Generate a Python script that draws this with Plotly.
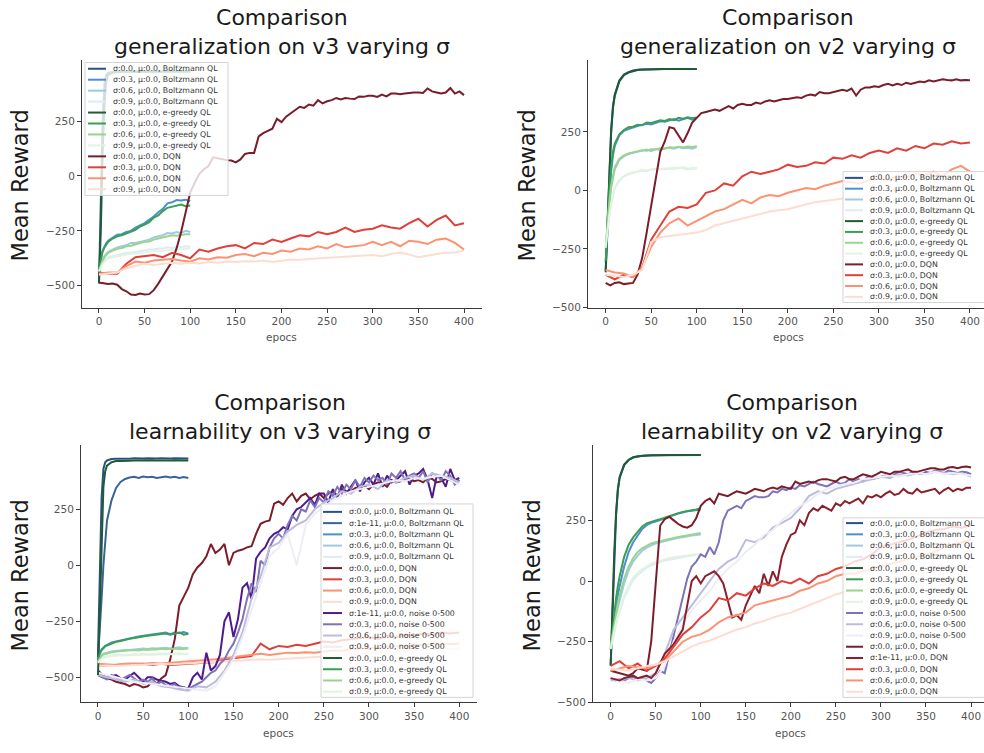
import plotly.graph_objects as go

W, H = 984, 753

# ---------------- x grids (epochs) ----------------
QLX = [0, 2, 4, 6, 8, 10] + list(range(15, 101, 5))
X5 = list(range(0, 401, 5))
X10 = list(range(0, 401, 10))

# ---------------- colours ----------------
COL = {
    "B0": "#2a5185", "B1e": "#3a6398", "B3": "#4b8fd0", "B6": "#9ecae1", "B9": "#deebf7",
    "E0": "#1f5c36", "E3": "#3a9e55", "E6": "#98d490", "E9": "#e3f4de",
    "D0": "#7b1c2a", "D1e": "#8a1f2e", "D3": "#e0403a", "D6": "#fc9272", "D9": "#fdddd0",
    "N1e": "#4f1a8c", "N3": "#7e72b8", "N6": "#bcbddc", "N9": "#eeedf6",
}

def lab(sig, alg):
    return "σ:%s, μ:0.0, %s" % (sig, alg)

# ======== Panel 1: generalization on v3 ========
g3_B0 = [-490, -100, 250, 420, 460, 470, 474, 475, 476, 475, 476, 476, 475, 476, 476, 475, 476, 476, 475, 476, 476, 476, 475, 476]
g3_B3 = [-430, -370, -340, -320, -305, -295, -280, -268, -265, -255, -250, -235, -225, -215, -200, -185, -165, -150, -125, -120, -110, -112, -108, -115]
g3_B6 = [-430, -400, -380, -365, -355, -345, -335, -325, -320, -315, -305, -305, -300, -295, -290, -280, -275, -270, -260, -262, -255, -260, -250, -255]
g3_B9 = [-430, -410, -395, -385, -378, -370, -365, -360, -355, -350, -350, -345, -340, -338, -335, -335, -330, -330, -325, -328, -322, -325, -320, -322]
g3_E0 = [-485, -250, 100, 330, 430, 460, 470, 473, 474, 474, 475, 474, 475, 475, 474, 475, 475, 474, 475, 475, 475, 474, 475, 475]
g3_E3 = [-425, -375, -345, -325, -315, -300, -285, -275, -270, -262, -255, -245, -230, -222, -210, -190, -180, -160, -145, -140, -135, -130, -138, -135]
g3_E6 = [-435, -405, -385, -370, -360, -350, -340, -332, -328, -320, -318, -310, -305, -300, -298, -290, -285, -280, -275, -270, -272, -268, -265, -265]
g3_E9 = [-435, -415, -400, -390, -382, -375, -370, -365, -360, -358, -355, -352, -350, -348, -345, -342, -340, -340, -338, -335, -335, -332, -330, -330]
g3_D0 = [-485, -490, -492, -490, -495, -515, -525, -540, -542, -535,
         -540, -538, -520, -490, -455, -420, -390, -330, -255, -165,
         -75, -30, 10, 30, 45, 85, 80, 75, 72, 70,
         62, 75, 100, 105, 105, 180, 195, 205, 215, 260,
         245, 270, 285, 300, 315, 310, 325, 320, 345, 330,
         340, 345, 355, 348, 355, 352, 350, 362, 360, 365,
         365, 360, 370, 362, 375, 375, 372, 375, 378, 380,
         380, 378, 398, 385, 380, 375, 380, 400, 375, 385,
         368]
g3_D3 = [-440, -445, -445, -400, -370, -365, -360, -370, -350, -360,
         -375, -335, -345, -330, -320, -315, -330, -305, -310, -290,
         -300, -285, -270, -275, -255, -265, -255, -235, -255, -245,
         -240, -225, -235, -240, -215, -195, -230, -200, -180, -225,
         -215]
g3_D6 = [-445, -440, -440, -410, -390, -395, -385, -380, -378, -385,
         -390, -375, -380, -370, -372, -360, -355, -365, -350, -355,
         -340, -345, -330, -335, -320, -330, -310, -325, -320, -315,
         -300, -315, -300, -320, -295, -300, -310, -290, -285, -305,
         -335]
g3_D9 = [-450, -445, -440, -420, -410, -400, -405, -400, -395, -400,
         -395, -398, -392, -395, -390, -392, -388, -390, -385, -392,
         -385, -380, -382, -378, -375, -372, -370, -368, -365, -362,
         -360, -365, -355, -350, -358, -370, -362, -355, -350, -348,
         -340]

# ======== Panel 2: generalization on v2 ========
g2_B0 = [-350, -120, 100, 260, 360, 410, 470, 495, 505, 512, 515, 516, 517, 518, 518, 518, 518, 518, 518, 518, 518, 518, 518, 518]
g2_B3 = [-310, -160, -20, 80, 150, 190, 235, 255, 262, 270, 275, 280, 285, 282, 290, 295, 293, 300, 305, 298, 305, 310, 302, 310]
g2_B6 = [-250, -140, -60, 10, 60, 90, 130, 145, 155, 160, 165, 170, 175, 168, 178, 172, 180, 182, 178, 185, 180, 182, 178, 185]
g2_B9 = [-250, -170, -110, -60, -20, 10, 40, 60, 70, 75, 80, 85, 82, 90, 88, 92, 90, 95, 92, 98, 95, 90, 96, 95]
g2_E0 = [-345, -140, 80, 245, 350, 405, 465, 492, 503, 510, 514, 516, 517, 517, 518, 518, 518, 518, 518, 518, 518, 518, 518, 518]
g2_E3 = [-300, -140, 0, 100, 165, 200, 240, 258, 270, 272, 280, 278, 290, 288, 295, 300, 297, 305, 300, 310, 306, 312, 308, 312]
g2_E6 = [-240, -130, -50, 20, 70, 100, 135, 150, 158, 162, 168, 172, 170, 176, 175, 180, 178, 184, 182, 186, 183, 188, 185, 190]
g2_E9 = [-245, -165, -105, -55, -15, 15, 45, 62, 72, 78, 80, 88, 85, 90, 92, 88, 95, 92, 98, 94, 100, 95, 92, 96]
g2_D0 = [-395, -405, -395, -392, -400, -398, -395, -360, -290, -180,
         -60, 60, 165, 210, 270, 265, 235, 205, 245, 290,
         310, 330, 335, 340, 345, 340, 350, 360, 350, 365,
         370, 365, 365, 375, 370, 380, 385, 380, 385, 390,
         390, 395, 398, 395, 405, 410, 405, 420, 415, 415,
         420, 425, 430, 425, 435, 405, 430, 440, 440, 445,
         442, 450, 455, 448, 455, 450, 460, 455, 460, 465,
         462, 470, 465, 470, 475, 472, 470, 475, 470, 472,
         470]
g2_D3 = [-360, -380, -360, -370, -330, -210, -150, -90, -70, -75,
         -60, -10, 0, 30, 20, 60, 80, 70, 80, 90,
         110, 100, 105, 120, 115, 140, 135, 150, 140, 160,
         170, 160, 180, 170, 190, 180, 200, 195, 210, 200,
         205]
g2_D6 = [-340, -350, -355, -370, -330, -240, -180, -140, -120, -150,
         -130, -110, -90, -80, -60, -40, -55, -30, -20, -25,
         -10, 0, 10, 5, 20, 30, 40, 35, 30, 45,
         50, 45, 60, 55, 70, 65, 80, 60, 90, 105,
         80]
g2_D9 = [-360, -365, -370, -360, -340, -220, -200, -195, -190, -185,
         -180, -170, -150, -140, -130, -120, -110, -100, -90, -85,
         -80, -70, -60, -50, -45, -40, -35, -30, -30, -20,
         -10, -15, 0, -5, 5, 10, 10, 15, 20, 15,
         20]

# ======== Panel 3: learnability on v3 ========
l3_B0 = [-400, -50, 300, 430, 460, 468, 474, 476, 475, 477, 476, 478, 476, 477, 478, 476, 477, 478, 476, 477, 478, 477, 476, 477]
l3_B1e = [-410, -300, -150, 0, 120, 200, 290, 345, 372, 385, 392, 395, 390, 396, 393, 395, 390, 394, 396, 392, 395, 390, 394, 390]
l3_B3 = [-420, -390, -375, -365, -360, -355, -345, -340, -335, -330, -325, -322, -318, -315, -312, -310, -308, -305, -300, -308, -300, -302, -298, -305]
l3_B6 = [-425, -410, -400, -395, -392, -390, -385, -382, -380, -378, -378, -375, -375, -372, -374, -370, -372, -370, -368, -372, -370, -366, -370, -368]
l3_B9 = [-430, -420, -415, -410, -408, -405, -402, -400, -400, -398, -400, -396, -398, -395, -398, -396, -395, -397, -394, -396, -395, -393, -396, -395]
l3_D0 = [-490, -500, -505, -510, -520, -525, -530, -540, -530, -535,
         -545, -540, -520, -530, -505, -490, -420, -330, -180, -140,
         -100, -40, -10, 10, 40, 95, 55, 70, 95, 0,
         55, 65, 70, 80, 85, 140, 185, 195, 200, 275,
         285, 270, 300, 320, 285, 310, 320, 295, 310, 320,
         300, 320, 330, 310, 340, 330, 330, 345, 350, 355,
         340, 360, 370, 365, 350, 380, 370, 375, 380, 385,
         375, 380, 370, 390, 385, 370, 375, 385, 380, 375,
         380]
l3_D3 = [-450, -448, -445, -442, -445, -440, -445, -440, -445, -442,
         -440, -438, -435, -432, -420, -415, -410, -405, -350, -375,
         -360, -365, -355, -360, -350, -340, -345, -335, -330, -325,
         -320, -330, -315, -320, -310, -315, -305, -310, -300, -305,
         -300]
l3_D6 = [-440, -442, -445, -440, -438, -440, -436, -438, -435, -434,
         -430, -428, -425, -420, -415, -410, -405, -400, -395, -400,
         -395, -390, -392, -388, -390, -385, -380, -382, -375, -372,
         -370, -368, -365, -362, -360, -358, -355, -352, -350, -352,
         -350]
l3_D9 = [-450, -448, -450, -446, -445, -444, -442, -440, -442, -440,
         -440, -438, -436, -432, -430, -428, -425, -422, -420, -422,
         -420, -418, -415, -412, -410, -408, -405, -400, -398, -395,
         -390, -388, -385, -382, -380, -378, -375, -374, -372, -370,
         -370]
l3_N1e = [-470, -490, -500, -495, -490, -505, -510, -495, -480, -500,
          -520, -500, -500, -510, -515, -520, -530, -525, -540, -545,
          -550, -500, -480, -510, -390, -470, -450, -400, -250, -210,
          -320, -240, -100, -80, -150, 30, 60, 80, 120, 140,
          150, 170, 160, 220, 250, 260, 280, 300, 270, 320,
          320, 280, 340, 300, 360, 320, 350, 380, 330, 370,
          390, 360, 410, 350, 400, 370, 380, 400, 420, 360,
          400, 410, 430, 380, 300, 400, 390, 350, 430, 380,
          390]
l3_N3 = [-480, -500, -510, -490, -500, -515, -500, -490, -505, -520,
         -510, -520, -505, -530, -520, -535, -540, -530, -550, -545,
         -555, -540, -530, -520, -500, -480, -470, -440, -420, -380,
         -350, -300, -240, -150, -80, -120, 20, 0, 80, 120,
         140, 120, 180, 220, 200, 250, 240, 290, 260, 300,
         280, 330, 310, 350, 320, 360, 340, 380, 350, 390,
         370, 400, 380, 390, 360, 410, 390, 420, 380, 400,
         410, 390, 420, 370, 410, 400, 380, 420, 400, 360,
         380]
l3_N6 = [-490, -500, -510, -520, -510, -530, -520, -540, -545, -555,
         -560, -540, -545, -520, -470, -400, -300, -150, -50, 80,
         100, 150, 180, 200, 250, 280, 300, 330, 320, 350,
         360, 340, 380, 370, 390, 400, 380, 410, 400, 390,
         370]
l3_N9 = [-480, -490, -500, -510, -520, -525, -530, -535, -540, -545,
         -550, -555, -560, -540, -480, -420, -320, -200, -80, 40,
         80, 140, 0, 180, 230, 260, 290, 310, 330, 340,
         350, 360, 370, 380, 375, 390, 385, 395, 400, 380,
         360]
l3_E0 = [-490, -200, 150, 350, 420, 445, 460, 465, 466, 468, 467, 468, 469, 467, 468, 469, 468, 467, 469, 468, 469, 468, 467, 468]
l3_E3 = [-425, -395, -380, -370, -362, -358, -350, -342, -338, -332, -328, -325, -320, -318, -315, -312, -310, -308, -305, -310, -304, -300, -310, -306]
l3_E6 = [-430, -415, -405, -398, -395, -392, -388, -385, -383, -382, -380, -378, -380, -376, -378, -375, -376, -373, -375, -374, -372, -375, -372, -372]
l3_E9 = [-435, -425, -418, -414, -410, -408, -405, -404, -402, -402, -400, -400, -399, -400, -398, -399, -398, -396, -398, -397, -396, -398, -395, -397]

# ======== Panel 4: learnability on v2 ========
l2_B0 = [-345, -110, 110, 270, 375, 425, 478, 499, 509, 513, 516, 517, 518, 518, 518, 519, 519, 519, 519, 519, 519, 519, 519, 519]
l2_B3 = [-285, -220, -160, -110, -60, -20, 60, 120, 160, 190, 215, 230, 240, 245, 252, 260, 265, 272, 278, 282, 288, 290, 292, 295]
l2_B6 = [-275, -230, -185, -145, -110, -80, -10, 45, 80, 105, 125, 138, 148, 155, 160, 165, 170, 172, 178, 180, 185, 188, 190, 192]
l2_B9 = [-285, -245, -210, -180, -150, -125, -70, -30, 5, 25, 42, 55, 65, 72, 78, 85, 88, 92, 96, 100, 102, 105, 108, 110]
l2_E0 = [-350, -100, 120, 280, 380, 430, 480, 500, 510, 514, 516, 517, 518, 518, 518, 519, 519, 519, 519, 519, 519, 519, 519, 519]
l2_E3 = [-280, -200, -130, -70, -20, 20, 100, 150, 180, 205, 225, 238, 245, 250, 255, 262, 268, 275, 280, 285, 290, 292, 295, 300]
l2_E6 = [-270, -220, -170, -130, -90, -60, 10, 60, 95, 120, 135, 145, 155, 160, 165, 170, 172, 178, 182, 185, 188, 190, 195, 198]
l2_E9 = [-280, -240, -200, -170, -140, -115, -60, -20, 15, 35, 50, 62, 72, 78, 85, 90, 95, 98, 100, 102, 105, 108, 110, 108]
l2_N3 = [-400, -410, -405, -410, -400, -395, -405, -400, -410, -420,
         -400, -370, -380, -300, -220, -150, -60, 10, 60, 80,
         110, 100, 140, 110, 160, 250, 290, 300, 310, 300,
         330, 340, 350, 345, 345, 350, 370, 365, 380, 375,
         385, 380, 395, 390, 400, 410, 400, 395, 390, 400,
         410, 400, 405, 420, 410, 420, 410, 430, 420, 425,
         430, 435, 425, 440, 450, 445, 440, 450, 445, 440,
         450, 445, 455, 450, 445, 455, 450, 445, 450, 448,
         440]
l2_N6 = [-410, -405, -400, -410, -400, -380, -300, -200, -150, -100,
         -50, 0, 50, 80, 100, 170, 160, 180, 220, 240,
         260, 300, 350, 370, 360, 380, 390, 400, 410, 420,
         430, 425, 440, 435, 445, 440, 450, 445, 440, 445,
         430]
l2_N9 = [-400, -410, -420, -405, -410, -400, -350, -250, -180, -120,
         -80, -40, 10, 50, 80, 120, 150, 190, 210, 250,
         280, 310, 330, 360, 380, 390, 400, 405, 420, 425,
         430, 435, 430, 440, 445, 440, 450, 440, 445, 440,
         435]
l2_D0 = [-370, -375, -380, -385, -390, -380, -360, -365, -370, -250,
         0, 229, 255, 265, 250, 235, 225, 220, 230, 260,
         310, 330, 340, 320, 360, 355, 350, 360, 370, 365,
         360, 370, 380, 375, 370, 380, 385, 380, 390, 385,
         380, 410, 400, 405, 410, 405, 415, 420, 420, 415,
         410, 425, 430, 420, 420, 430, 440, 435, 430, 440,
         450, 445, 440, 450, 450, 455, 460, 450, 450, 455,
         460, 465, 465, 460, 460, 468, 470, 465, 470, 472,
         468]
l2_D1e = [-400, -405, -410, -400, -395, -390, -400, -395, -390, -400,
          -380, -340, -300, -280, -260, -230, -200, -100, 0, 20,
          -10, 20, 30, 40, 20, -10, -80, -150, -140, -160,
          -100, -60, -20, -50, 30, -20, 40, 0, 100, 150,
          190, 200, 250, 230, 280, 300, 290, 310, 300, 290,
          320, 310, 330, 320, 330, 340, 320, 350, 345, 355,
          345, 360, 370, 355, 360, 380, 365, 360, 380, 365,
          370, 375, 380, 360, 375, 385, 370, 380, 375, 385,
          385]
l2_D3 = [-350, -330, -360, -340, -370, -350, -320, -270, -220, -190,
         -150, -120, -70, -80, -50, -60, -30, -10, -20, 0,
         -10, 10, -10, 20, 30, 50, 60, 80, 90, 110,
         140, 150, 160, 170, 185, 200, 210, 215, 225, 220,
         230]
l2_D6 = [-370, -360, -350, -355, -360, -345, -330, -290, -250, -230,
         -220, -200, -170, -150, -140, -130, -100, -90, -80, -70,
         -60, -40, -30, -10, 0, 20, 30, 30, 40, 50,
         60, 70, 80, 90, 100, 110, 120, 140, 150, 160,
         170]
l2_D9 = [-360, -365, -370, -360, -350, -345, -330, -310, -290, -270,
         -255, -245, -230, -215, -200, -190, -175, -165, -150, -140,
         -130, -115, -100, -85, -70, -55, -45, -35, -20, -10,
         0, 10, 20, 25, 30, 35, 40, 45, 50, 55,
         60]

BQ, EQ, DQ, NQ = "Boltzmann QL", "e-greedy QL", "DQN", "noise 0-500"

panels = [
    dict(
        title="Comparison<br>generalization on v3 varying σ", title_xy=(282, 32.5),
        box=(82, 60, 482, 310), xr=(-18.6, 419.7), yr=(-599, 530),
        ylab_xy=(20, 187), xlab_xy=(281, 340),
        leg=dict(box=(85, 63, 228, 197), y0=69.3, dy=11.04, sw=(88, 106), tx=111),
        series=[
            (lab("0.0", BQ), "B0", QLX, g3_B0), (lab("0.3", BQ), "B3", QLX, g3_B3),
            (lab("0.6", BQ), "B6", QLX, g3_B6), (lab("0.9", BQ), "B9", QLX, g3_B9),
            (lab("0.0", EQ), "E0", QLX, g3_E0), (lab("0.3", EQ), "E3", QLX, g3_E3),
            (lab("0.6", EQ), "E6", QLX, g3_E6), (lab("0.9", EQ), "E9", QLX, g3_E9),
            (lab("0.0", DQ), "D0", X5, g3_D0), (lab("0.3", DQ), "D3", X10, g3_D3),
            (lab("0.6", DQ), "D6", X10, g3_D6), (lab("0.9", DQ), "D9", X10, g3_D9),
        ]),
    dict(
        title="Comparison<br>generalization on v2 varying σ", title_xy=(788, 32.5),
        box=(588, 60, 984, 310), xr=(-19.4, 415.4), yr=(-500, 559),
        ylab_xy=(527, 187), xlab_xy=(788, 340),
        leg=dict(box=(843, 173, 990, 305), y0=179.3, dy=10.9, sw=(845, 863), tx=868),
        series=[
            (lab("0.0", BQ), "B0", QLX, g2_B0), (lab("0.3", BQ), "B3", QLX, g2_B3),
            (lab("0.6", BQ), "B6", QLX, g2_B6), (lab("0.9", BQ), "B9", QLX, g2_B9),
            (lab("0.0", EQ), "E0", QLX, g2_E0), (lab("0.3", EQ), "E3", QLX, g2_E3),
            (lab("0.6", EQ), "E6", QLX, g2_E6), (lab("0.9", EQ), "E9", QLX, g2_E9),
            (lab("0.0", DQ), "D0", X5, g2_D0), (lab("0.3", DQ), "D3", X10, g2_D3),
            (lab("0.6", DQ), "D6", X10, g2_D6), (lab("0.9", DQ), "D9", X10, g2_D9),
        ]),
    dict(
        title="Comparison<br>learnability on v3 varying σ", title_xy=(280, 420.5),
        box=(81, 449, 477, 708), xr=(-18.8, 419.6), yr=(-612, 535),
        ylab_xy=(20, 580), xlab_xy=(278, 739),
        leg=dict(box=(321, 508, 473, 703), y0=516, dy=11.33, sw=(323, 342), tx=347),
        series=[
            (lab("0.0", BQ), "B0", QLX, l3_B0), (lab("1e-11", BQ), "B1e", QLX, l3_B1e),
            (lab("0.3", BQ), "B3", QLX, l3_B3), (lab("0.6", BQ), "B6", QLX, l3_B6),
            (lab("0.9", BQ), "B9", QLX, l3_B9),
            (lab("0.0", DQ), "D0", X5, l3_D0), (lab("0.3", DQ), "D3", X10, l3_D3),
            (lab("0.6", DQ), "D6", X10, l3_D6), (lab("0.9", DQ), "D9", X10, l3_D9),
            (lab("1e-11", NQ), "N1e", X5, l3_N1e), (lab("0.3", NQ), "N3", X5, l3_N3),
            (lab("0.6", NQ), "N6", X10, l3_N6), (lab("0.9", NQ), "N9", X10, l3_N9),
            (lab("0.0", EQ), "E0", QLX, l3_E0), (lab("0.3", EQ), "E3", QLX, l3_E3),
            (lab("0.6", EQ), "E6", QLX, l3_E6), (lab("0.9", EQ), "E9", QLX, l3_E9),
        ]),
    dict(
        title="Comparison<br>learnability on v2 varying σ", title_xy=(792, 420.5),
        box=(593, 449, 984, 708), xr=(-19.6, 414.4), yr=(-500, 559),
        ylab_xy=(532, 580), xlab_xy=(790, 739),
        leg=dict(box=(843, 522, 990, 703), y0=527.3, dy=11.33, sw=(846, 863), tx=868),
        series=[
            (lab("0.0", BQ), "B0", QLX, l2_B0), (lab("0.3", BQ), "B3", QLX, l2_B3),
            (lab("0.6", BQ), "B6", QLX, l2_B6), (lab("0.9", BQ), "B9", QLX, l2_B9),
            (lab("0.0", EQ), "E0", QLX, l2_E0), (lab("0.3", EQ), "E3", QLX, l2_E3),
            (lab("0.6", EQ), "E6", QLX, l2_E6), (lab("0.9", EQ), "E9", QLX, l2_E9),
            (lab("0.3", NQ), "N3", X5, l2_N3), (lab("0.6", NQ), "N6", X10, l2_N6),
            (lab("0.9", NQ), "N9", X10, l2_N9),
            (lab("0.0", DQ), "D0", X5, l2_D0), (lab("1e-11", DQ), "D1e", X5, l2_D1e),
            (lab("0.3", DQ), "D3", X10, l2_D3), (lab("0.6", DQ), "D6", X10, l2_D6),
            (lab("0.9", DQ), "D9", X10, l2_D9),
        ]),
]

FONT = "DejaVu Sans, Arial, sans-serif"
def px(x):
    return x / W
def py(y):
    return 1 - y / H

fig = go.Figure()
layout = dict(width=W, height=H, autosize=False, margin=dict(l=0, r=0, t=0, b=0),
              paper_bgcolor="white", plot_bgcolor="white", showlegend=False,
              font=dict(family=FONT, color="#333"))
shapes, annotations = [], []

for i, p in enumerate(panels, start=1):
    sfx = "" if i == 1 else str(i)
    xa, ya = "x" + sfx, "y" + sfx
    x0, y0, x1, y1 = p["box"]
    axis_common = dict(showline=True, linecolor="#3a3a3a", linewidth=1, mirror=False,
                       ticks="outside", ticklen=4, tickcolor="#3a3a3a", tickwidth=1,
                       showgrid=False, zeroline=False,
                       tickfont=dict(family=FONT, size=10.5, color="#555"))
    layout["xaxis" + sfx] = dict(domain=[px(x0), px(x1)], range=list(p["xr"]), anchor=ya,
                                 tickvals=[0, 50, 100, 150, 200, 250, 300, 350, 400], **axis_common)
    layout["yaxis" + sfx] = dict(domain=[py(y1), py(y0)], range=list(p["yr"]), anchor=xa,
                                 tickvals=[-500, -250, 0, 250], **axis_common)
    for (name, ck, xs, ys) in p["series"]:
        assert len(xs) == len(ys), name
        fig.add_trace(go.Scatter(x=xs, y=ys, mode="lines", name=name, xaxis=xa, yaxis=ya,
                                 line=dict(color=COL[ck], width=2), hoverinfo="name+x+y"))
    # title (two lines) and axis labels
    tx, ty = p["title_xy"]
    annotations.append(dict(text=p["title"], x=px(tx), y=py(ty), xref="paper", yref="paper",
                            showarrow=False, xanchor="center", yanchor="middle", align="center",
                            font=dict(family=FONT, size=22, color="#1a1a1a")))
    lx, ly = p["ylab_xy"]
    annotations.append(dict(text="Mean Reward", x=px(lx), y=py(ly), xref="paper", yref="paper",
                            showarrow=False, textangle=-90, xanchor="center", yanchor="middle",
                            font=dict(family=FONT, size=22.5, color="#1a1a1a")))
    ex, ey = p["xlab_xy"]
    annotations.append(dict(text="epocs", x=px(ex), y=py(ey), xref="paper", yref="paper",
                            showarrow=False, xanchor="center", yanchor="middle",
                            font=dict(family=FONT, size=10.5, color="#555")))
    # legend box drawn from the same series list
    lg = p["leg"]
    bx0, by0, bx1, by1 = lg["box"]
    shapes.append(dict(type="rect", xref="paper", yref="paper", x0=px(bx0), x1=px(bx1),
                       y0=py(by1), y1=py(by0), fillcolor="rgba(255,255,255,0.8)",
                       line=dict(color="#d4d4d4", width=1), layer="above"))
    for k, (name, ck, xs, ys) in enumerate(p["series"]):
        yy = lg["y0"] + k * lg["dy"]
        shapes.append(dict(type="line", xref="paper", yref="paper", x0=px(lg["sw"][0]),
                           x1=px(lg["sw"][1]), y0=py(yy), y1=py(yy),
                           line=dict(color=COL[ck], width=2), layer="above"))
        annotations.append(dict(text=name, x=px(lg["tx"]), y=py(yy), xref="paper", yref="paper",
                                showarrow=False, xanchor="left", yanchor="middle",
                                font=dict(family=FONT, size=7.8, color="#333")))

layout["shapes"] = shapes
layout["annotations"] = annotations
fig.update_layout(**layout)
fig.write_html("out.html")
